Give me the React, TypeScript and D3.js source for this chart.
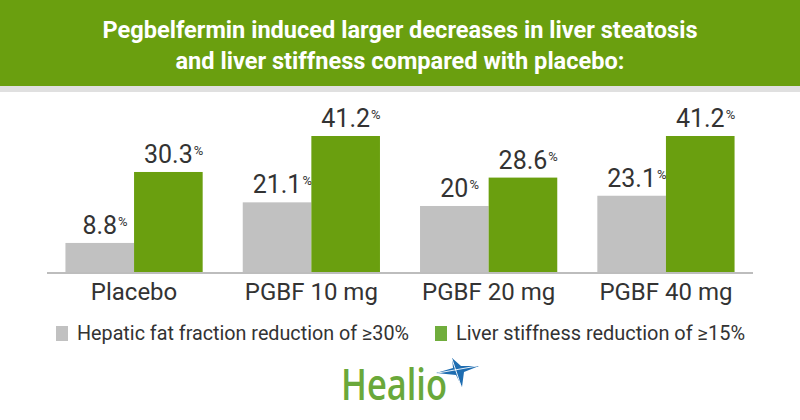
import React, { useEffect, useRef } from "react";
import * as d3 from "d3";

const categories = ["Placebo", "PGBF 10 mg", "PGBF 20 mg", "PGBF 40 mg"];
const seriesNames = ["Hepatic fat fraction reduction of ≥30%", "Liver stiffness reduction of ≥15%"];
const fatValues = [8.8, 21.1, 20, 23.1];
const stiffnessValues = [30.3, 41.2, 28.6, 41.2];
const labelsFat = ["8.8", "21.1", "20", "23.1"];
const labelsStiff = ["30.3", "41.2", "28.6", "41.2"];
const titleLines = [
  "Pegbelfermin induced larger decreases in liver steatosis",
  "and liver stiffness compared with placebo:",
];

const W = 800;
const H = 420;
const GREEN = "#6a9f0f";
const GREY = "#c1c1c1";
const TEXT = "#333333";

const App: React.FC = () => {
  const svgRef = useRef<SVGSVGElement | null>(null);

  useEffect(() => {
    const svg = d3.select(svgRef.current);
    svg.selectAll("*").remove();

    // header band
    svg.append("rect").attr("x", 0).attr("y", 0).attr("width", W).attr("height", 86).attr("fill", GREEN);
    svg.append("rect").attr("x", 0).attr("y", 86).attr("width", W).attr("height", 6).attr("fill", "#e0e0e0");

    const titleWidths = [595, 449];
    titleLines.forEach((line, i) => {
      svg
        .append("text")
        .attr("x", W / 2)
        .attr("y", 38 + i * 31)
        .attr("text-anchor", "middle")
        .attr("font-family", "Roboto, sans-serif")
        .attr("font-weight", 700)
        .attr("font-size", 24)
        .attr("fill", "#fff")
        .attr("textLength", titleWidths[i])
        .attr("lengthAdjust", "spacingAndGlyphs")
        .text(line);
    });

    const baseY = 272;
    const x0 = d3
      .scaleBand<string>()
      .domain(categories)
      .range([47, 753])
      .paddingInner(0.226)
      .paddingOuter(0.104);
    const x1 = d3.scaleBand<string>().domain(["fat", "stiff"]).range([0, x0.bandwidth()]);
    const y = d3.scaleLinear().domain([0, 41.2]).range([baseY, 136]);

    const series = [
      { key: "fat", values: fatValues, labels: labelsFat, color: GREY, swatch: GREY },
      { key: "stiff", values: stiffnessValues, labels: labelsStiff, color: GREEN, swatch: "#70ad3c" },
    ];

    const chart = svg.append("g");
    series.forEach((s) => {
      categories.forEach((c, i) => {
        const bx = (x0(c) || 0) + (x1(s.key) || 0);
        chart
          .append("rect")
          .attr("x", bx)
          .attr("y", y(s.values[i]))
          .attr("width", x1.bandwidth())
          .attr("height", baseY - y(s.values[i]))
          .attr("fill", s.color);

        const cx = bx + x1.bandwidth() / 2;
        const ly = y(s.values[i]) - 9;
        const num = chart
          .append("text")
          .attr("x", cx)
          .attr("y", ly)
          .attr("text-anchor", "middle")
          .attr("font-family", "Roboto, sans-serif")
          .attr("font-size", 25)
          .attr("fill", TEXT)
          .text(s.labels[i]);
        const w = (num.node() as SVGTextElement).getComputedTextLength();
        chart
          .append("text")
          .attr("x", cx + w / 2 + 1)
          .attr("y", ly - 8)
          .attr("font-family", "Roboto, sans-serif")
          .attr("font-size", 13)
          .attr("fill", TEXT)
          .text("%");
      });
    });

    // baseline
    chart
      .append("line")
      .attr("x1", 47)
      .attr("x2", 753)
      .attr("y1", baseY + 1)
      .attr("y2", baseY + 1)
      .attr("stroke", "#bdbdbd")
      .attr("stroke-width", 2);

    // category labels
    categories.forEach((c) => {
      chart
        .append("text")
        .attr("x", (x0(c) || 0) + x0.bandwidth() / 2)
        .attr("y", 300)
        .attr("text-anchor", "middle")
        .attr("font-family", "Roboto, sans-serif")
        .attr("font-size", 24)
        .attr("fill", TEXT)
        .text(c);
    });

    // legend
    const legendX = [56, 435];
    const legendW = [332, 289];
    seriesNames.forEach((name, i) => {
      const g = svg.append("g").attr("transform", `translate(${legendX[i]}, 326)`);
      g.append("rect").attr("width", 12).attr("height", 15).attr("fill", series[i].swatch);
      g.append("text")
        .attr("x", 21)
        .attr("y", 14)
        .attr("font-family", "Roboto, sans-serif")
        .attr("font-size", 20)
        .attr("fill", TEXT)
        .attr("textLength", legendW[i])
        .attr("lengthAdjust", "spacingAndGlyphs")
        .text(name);
    });

    // logo
    const logo = svg.append("g");
    logo
      .append("text")
      .attr("x", 341)
      .attr("y", 400)
      .attr("font-family", "'Open Sans', sans-serif")
      .attr("font-size", 43)
      .attr("font-weight", 600)
      .attr("fill", "#6aa83a")
      .attr("textLength", 106)
      .attr("lengthAdjust", "spacingAndGlyphs")
      .text("Healio");
    logo
      .append("path")
      .attr("d", "M452,358 L461,366 L479,366 L464,372 L462,387 L456,375 L436,373 L453,368 Z")
      .attr("fill", "#1e6db1");
    logo
      .append("path")
      .attr("d", "M438,373 L477,366 M452,359 L461,386")
      .attr("stroke", "#fff")
      .attr("stroke-width", 0.9);
  }, []);

  return <svg ref={svgRef} width={W} height={H} style={{ position: "absolute", left: 0, top: 0 }} />;
};

export default App;
